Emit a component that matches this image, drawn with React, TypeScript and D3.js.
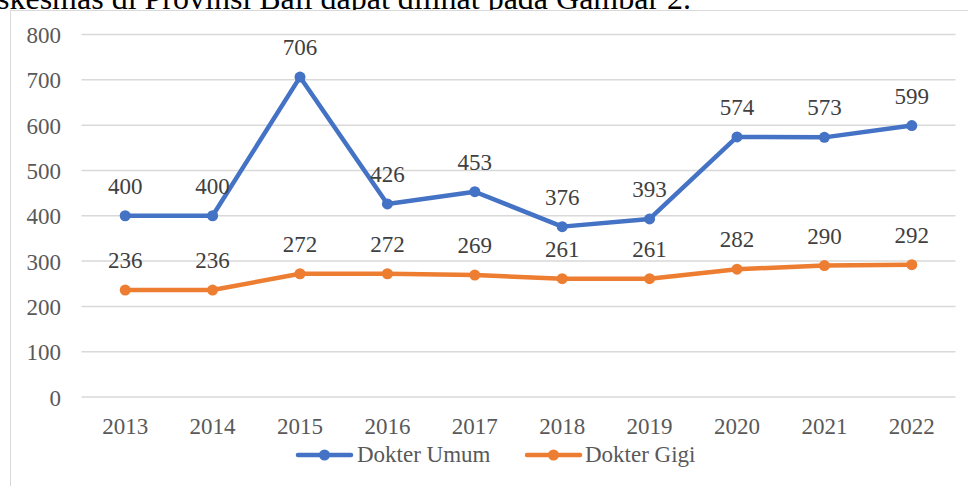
import React, { useRef, useEffect } from 'react'
import * as d3 from 'd3'

const years = ['2013', '2014', '2015', '2016', '2017', '2018', '2019', '2020', '2021', '2022']
const dokterUmum = [400, 400, 706, 426, 453, 376, 393, 574, 573, 599]
const dokterGigi = [236, 236, 272, 272, 269, 261, 261, 282, 290, 292]
const yTicks = [0, 100, 200, 300, 400, 500, 600, 700, 800]
const seriesNames = ['Dokter Umum', 'Dokter Gigi']
const seriesColors = ['#4472C4', '#ED7D31']

const W = 968
const H = 486

const App: React.FC = () => {
    const svgRef = useRef<SVGSVGElement>(null)

    useEffect(() => {
        if (!svgRef.current) return
        const svg = d3.select(svgRef.current)
        svg.selectAll('*').remove()

        const font = '"Liberation Serif", "Times New Roman", serif'
        const fs = 23

        // text from the page above the figure, cut off at the top
        svg.append('text')
            .attr('x', -3)
            .attr('y', 9)
            .attr('font-family', font)
            .attr('font-size', 32)
            .attr('fill', '#000')
            .text('skesmas di Provinsi Bali dapat dilihat pada Gambar 2.')

        // chart frame
        svg.append('rect')
            .attr('x', 10.5)
            .attr('y', 10.5)
            .attr('width', W)
            .attr('height', H)
            .attr('fill', '#fff')
            .attr('stroke', '#D9D9D9')
            .attr('stroke-width', 1)

        const x = d3.scaleBand<string>().domain(years).range([81.5, 955.5])
        const y = d3.scaleLinear().domain([0, 800]).range([397, 34.5])
        const cx = (d: string) => (x(d) ?? 0) + x.bandwidth() / 2

        // gridlines
        svg.append('g')
            .selectAll('line')
            .data(yTicks)
            .enter()
            .append('line')
            .attr('x1', 81.5)
            .attr('x2', 955.5)
            .attr('y1', (d) => y(d))
            .attr('y2', (d) => y(d))
            .attr('stroke', '#D9D9D9')
            .attr('stroke-width', 1.5)

        // y tick labels
        svg.append('g')
            .selectAll('text')
            .data(yTicks)
            .enter()
            .append('text')
            .attr('x', 61)
            .attr('y', (d) => y(d) + 8.5)
            .attr('text-anchor', 'end')
            .attr('font-family', font)
            .attr('font-size', fs)
            .attr('fill', '#595959')
            .text((d) => d)

        // x tick labels
        svg.append('g')
            .selectAll('text')
            .data(years)
            .enter()
            .append('text')
            .attr('x', (d) => cx(d))
            .attr('y', 434)
            .attr('text-anchor', 'middle')
            .attr('font-family', font)
            .attr('font-size', fs)
            .attr('fill', '#595959')
            .text((d) => d)

        const allSeries = [dokterUmum, dokterGigi]
        const line = d3
            .line<number>()
            .x((_, i) => cx(years[i]))
            .y((d) => y(d))

        allSeries.forEach((vals, si) => {
            const g = svg.append('g')
            g.append('path')
                .datum(vals)
                .attr('d', line)
                .attr('fill', 'none')
                .attr('stroke', seriesColors[si])
                .attr('stroke-width', 4.5)
                .attr('stroke-linejoin', 'round')
                .attr('stroke-linecap', 'round')

            g.selectAll('circle')
                .data(vals)
                .enter()
                .append('circle')
                .attr('cx', (_, i) => cx(years[i]))
                .attr('cy', (d) => y(d))
                .attr('r', 5.5)
                .attr('fill', seriesColors[si])
        })

        // data labels
        allSeries.forEach((vals) => {
            svg.append('g')
                .selectAll('text')
                .data(vals)
                .enter()
                .append('text')
                .attr('x', (_, i) => cx(years[i]))
                .attr('y', (d) => y(d) - 22)
                .attr('text-anchor', 'middle')
                .attr('font-family', font)
                .attr('font-size', fs)
                .attr('fill', '#404040')
                .text((d) => d)
        })

        // legend
        const legendItems = [
            { x1: 298, x2: 351, tx: 357 },
            { x1: 527, x2: 580, tx: 585 },
        ]
        legendItems.forEach((it, si) => {
            const g = svg.append('g')
            g.append('line')
                .attr('x1', it.x1)
                .attr('x2', it.x2)
                .attr('y1', 455)
                .attr('y2', 455)
                .attr('stroke', seriesColors[si])
                .attr('stroke-width', 4.5)
                .attr('stroke-linecap', 'round')
            g.append('circle')
                .attr('cx', (it.x1 + it.x2) / 2)
                .attr('cy', 455)
                .attr('r', 5.5)
                .attr('fill', seriesColors[si])
            g.append('text')
                .attr('x', it.tx)
                .attr('y', 462)
                .attr('font-family', font)
                .attr('font-size', fs)
                .attr('fill', '#595959')
                .text(seriesNames[si])
        })
    }, [])

    return (
        <div style={{ position: 'absolute', left: 0, top: 0, width: W, height: H, overflow: 'hidden' }}>
            <svg ref={svgRef} width={W} height={H} style={{ display: 'block' }} />
        </div>
    )
}

export default App
